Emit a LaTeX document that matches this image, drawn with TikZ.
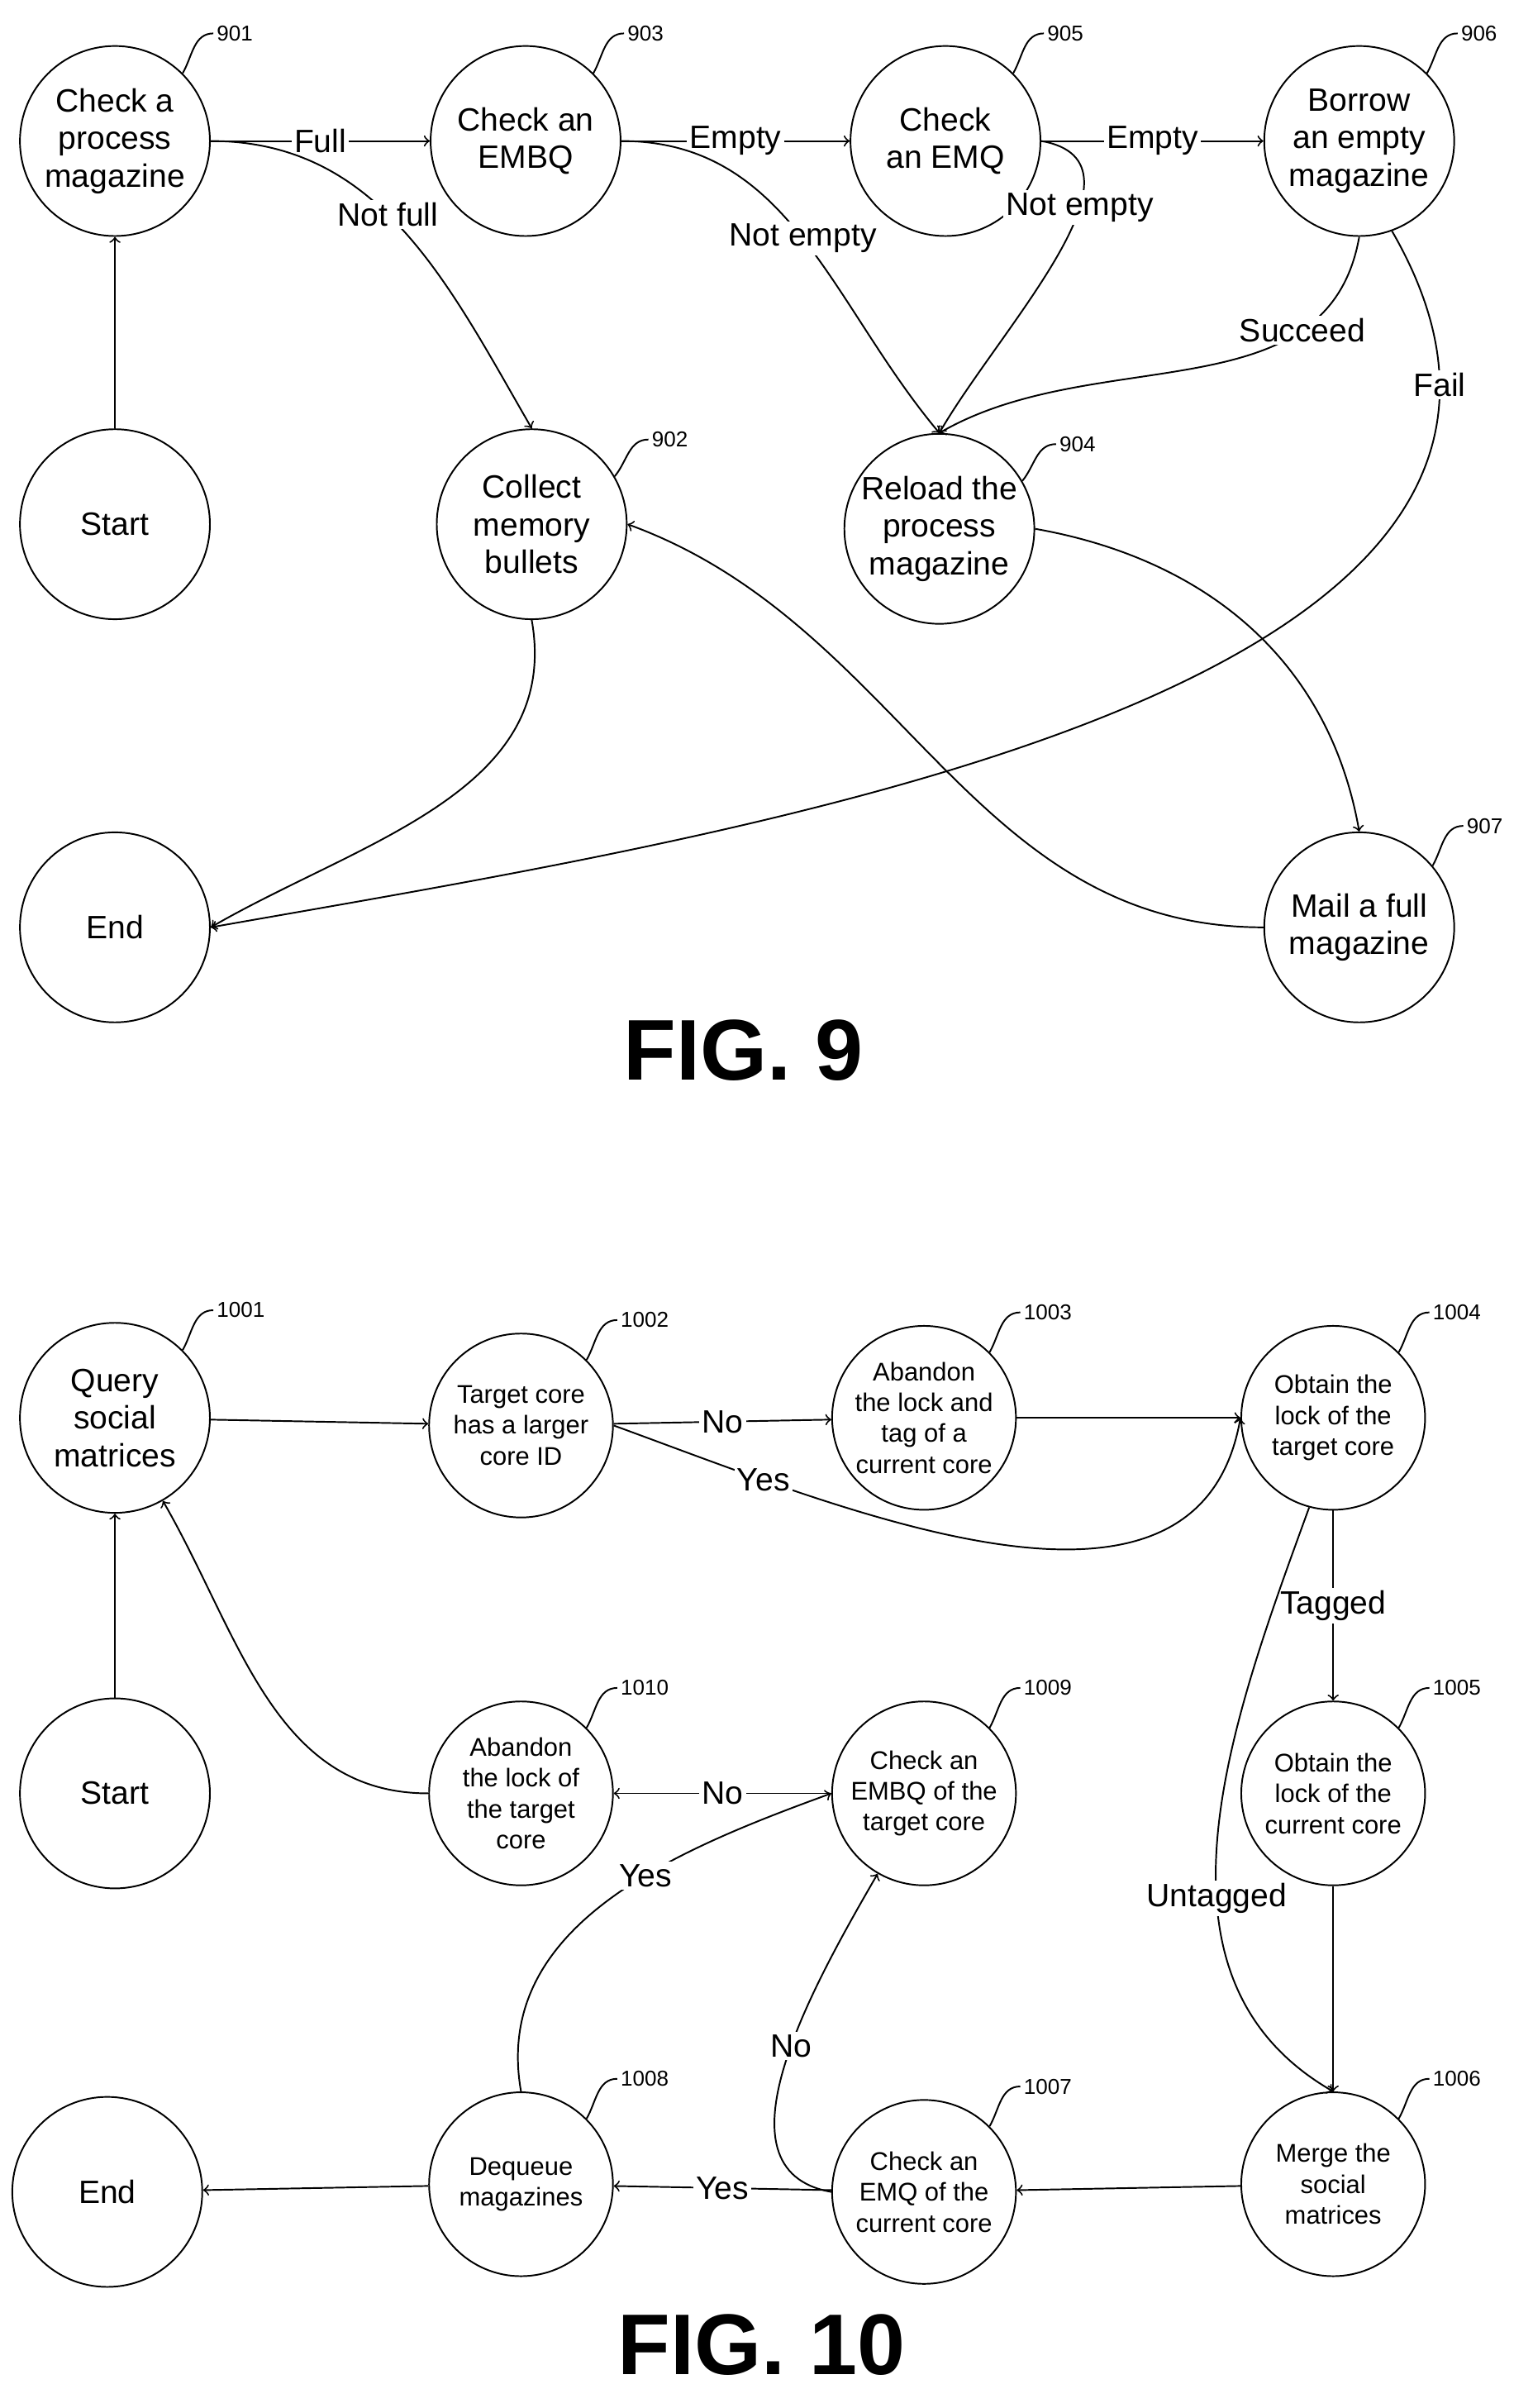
\documentclass[tikz,border=0pt]{standalone}
\usepackage{fontspec}
\setmainfont{Liberation Sans}
\begin{document}
\begin{tikzpicture}[x=0.02cm,y=-0.02cm,
    state/.style={draw, circle, minimum size=2.48cm, inner sep=0pt, align=center, font=\fontsize{12}{14}\selectfont},
    small/.style={state, minimum size=2.4cm, font=\fontsize{9.5}{11.5}\selectfont},
    refnum/.style={right, inner sep=1pt, font=\fontsize{8}{9}\selectfont},
    lbl/.style={fill=white, inner sep=1pt, font=\fontsize{12}{14}\selectfont},
    figlbl/.style={font=\fontsize{32}{36}\selectfont\bfseries},
    every path/.style={line width=0.6pt}]
    \useasboundingbox (0,0) rectangle (1000,1571);

    % FIG. 9
    \node[state] (n901) at (75,92) {Check a\\process\\magazine};
    \node[state] (n903) at (343,92) {Check an\\EMBQ};
    \node[state] (n905) at (617,92) {Check\\an EMQ};
    \node[state] (n906) at (887,92) {Borrow\\an empty\\magazine};
    \node[state] (s9) at (75,342) {Start};
    \node[state] (n902) at (347,342) {Collect\\memory\\bullets};
    \node[state] (n904) at (613,345) {Reload the\\process\\magazine};
    \node[state] (e9) at (75,605) {End};
    \node[state] (n907) at (887,605) {Mail a full\\magazine};
    \node[figlbl] at (485,685) {FIG. 9};

    \draw (n901.45) to[out=60,in=180] ++(20,-26) node[refnum] {901};
    \draw (n903.45) to[out=60,in=180] ++(20,-26) node[refnum] {903};
    \draw (n905.45) to[out=60,in=180] ++(20,-26) node[refnum] {905};
    \draw (n906.45) to[out=60,in=180] ++(20,-26) node[refnum] {906};
    \draw (n902.30) to[out=50,in=180] ++(22,-24) node[refnum] {902};
    \draw (n904.30) to[out=50,in=180] ++(22,-24) node[refnum] {904};
    \draw (n907.40) to[out=60,in=180] ++(20,-26) node[refnum] {907};

    \draw[->] (s9) -- (n901);
    \draw[->] (n901) -- node[lbl] {Full} (n903);
    \draw[->] (n901.east) to[out=0,in=120] node[lbl, pos=0.45] {Not full} (n902.north);
    \draw[->] (n903) -- node[lbl] {Empty} (n905);
    \draw[->] (n903.east) to[out=0,in=130] node[lbl, pos=0.5] {Not empty} (n904.north);
    \draw[->] (n905) -- node[lbl] {Empty} (n906);
    \draw[->] (n905.east) to[out=-10,in=60] node[lbl, pos=0.35] {Not empty} (n904.north);
    \draw[->] (n906.south) to[out=-100,in=30] node[lbl, pos=0.25] {Succeed} (n904.north);
    \draw[->] (n906.-70) to[out=-60,in=10] node[lbl, pos=0.12] {Fail} (e9.east);
    \draw[->] (n902.south) to[out=-80,in=30] (e9.east);
    \draw[->] (n904.east) to[out=-10,in=100] (n907.north);
    \draw[->] (n907.west) to[out=180,in=-20] (n902.east);

    % FIG. 10
    \node[state] (n1001) at (75,925) {Query\\social\\matrices};
    \node[small] (n1002) at (340,930) {Target core\\has a larger\\core ID};
    \node[small] (n1003) at (603,925) {Abandon\\the lock and\\tag of a\\current core};
    \node[small] (n1004) at (870,925) {Obtain the\\lock of the\\target core};
    \node[state] (s10) at (75,1170) {Start};
    \node[small] (n1010) at (340,1170) {Abandon\\the lock of\\the target\\core};
    \node[small] (n1009) at (603,1170) {Check an\\EMBQ of the\\target core};
    \node[small] (n1005) at (870,1170) {Obtain the\\lock of the\\current core};
    \node[state] (e10) at (70,1430) {End};
    \node[small] (n1008) at (340,1425) {Dequeue\\magazines};
    \node[small] (n1007) at (603,1430) {Check an\\EMQ of the\\current core};
    \node[small] (n1006) at (870,1425) {Merge the\\social\\matrices};
    \node[figlbl] at (497,1530) {FIG. 10};

    \draw (n1001.45) to[out=60,in=180] ++(20,-26) node[refnum] {1001};
    \draw (n1002.45) to[out=60,in=180] ++(20,-26) node[refnum] {1002};
    \draw (n1003.45) to[out=60,in=180] ++(20,-26) node[refnum] {1003};
    \draw (n1004.45) to[out=60,in=180] ++(20,-26) node[refnum] {1004};
    \draw (n1010.45) to[out=60,in=180] ++(20,-26) node[refnum] {1010};
    \draw (n1009.45) to[out=60,in=180] ++(20,-26) node[refnum] {1009};
    \draw (n1005.45) to[out=60,in=180] ++(20,-26) node[refnum] {1005};
    \draw (n1008.45) to[out=60,in=180] ++(20,-26) node[refnum] {1008};
    \draw (n1007.45) to[out=60,in=180] ++(20,-26) node[refnum] {1007};
    \draw (n1006.45) to[out=60,in=180] ++(20,-26) node[refnum] {1006};

    \draw[->] (s10) -- (n1001);
    \draw[->] (n1001) -- (n1002);
    \draw[->] (n1002) -- node[lbl] {No} (n1003);
    \draw[->] (n1003) -- (n1004);
    \draw[->] (n1002.east) to[out=-20,in=-100] node[lbl, pos=0.2] {Yes} (n1004.west);
    \draw[->] (n1004) -- node[lbl] {Tagged} (n1005);
    \draw[->] (n1004.-105) to[out=-110,in=150] node[lbl, pos=0.6] {Untagged} (n1006.north);
    \draw[->] (n1005) -- (n1006);
    \draw[->] (n1006) -- (n1007);
    \draw[->] (n1007) -- node[lbl] {Yes} (n1008);
    \draw[->] (n1008) -- (e10);
    \draw[->] (n1007.west) to[out=170,in=-120] node[lbl, pos=0.55] {No} (n1009.-120);
    \draw[->] (n1008.north) to[out=100,in=200] node[lbl, pos=0.6] {Yes} (n1009.west);
    \draw[->] (n1009) -- node[lbl] {No} (n1010);
    \draw[->] (n1010.west) to[out=180,in=-60] (n1001.-60);
\end{tikzpicture}
\end{document}
